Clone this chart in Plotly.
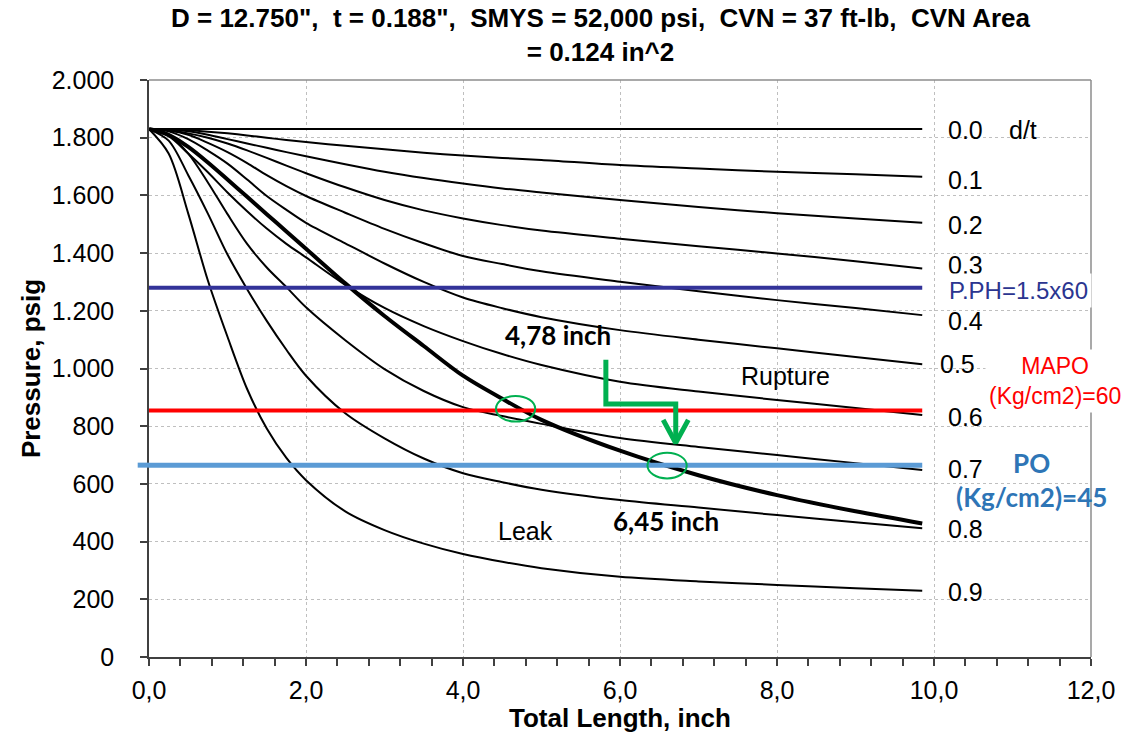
import plotly.graph_objects as go

# ---------------- data ----------------
X_PTS = [0, 0.25, 0.5, 0.75, 1.0, 1.25, 1.5, 1.75, 2.0, 2.5, 3.0, 3.5, 4.0, 4.5, 5.0, 6.0, 7.0, 8.0, 9.0, 9.85]

DT_00 = [1830, 1830, 1830, 1830, 1830, 1830, 1830, 1830, 1830, 1830, 1830, 1830, 1830, 1830, 1830, 1830, 1830, 1830, 1830, 1830]
DT_01 = [1830, 1829, 1826, 1821, 1815, 1808, 1800, 1792, 1785, 1772, 1760, 1748, 1738, 1730, 1723, 1705, 1693, 1682, 1673, 1665]
DT_02 = [1830, 1828, 1822, 1810, 1795, 1780, 1765, 1750, 1736, 1708, 1682, 1660, 1641, 1624, 1610, 1584, 1560, 1538, 1520, 1505]
DT_03 = [1830, 1826, 1815, 1800, 1780, 1756, 1730, 1703, 1677, 1628, 1584, 1548, 1520, 1497, 1478, 1450, 1424, 1399, 1372, 1347]
DT_04 = [1830, 1825, 1810, 1782, 1750, 1712, 1670, 1632, 1598, 1540, 1484, 1434, 1390, 1362, 1337, 1301, 1268, 1237, 1210, 1185]
DT_05 = [1830, 1822, 1795, 1755, 1710, 1655, 1598, 1550, 1505, 1434, 1364, 1300, 1246, 1209, 1178, 1133, 1100, 1070, 1040, 1015]
DT_06 = [1830, 1805, 1745, 1680, 1610, 1545, 1485, 1432, 1385, 1290, 1210, 1147, 1095, 1050, 1012, 954, 920, 891, 863, 839]
DT_07 = [1830, 1810, 1745, 1645, 1535, 1432, 1350, 1282, 1212, 1098, 998, 922, 866, 835, 808, 759, 728, 700, 672, 648]
DT_08 = [1830, 1790, 1670, 1537, 1395, 1275, 1165, 1065, 975, 845, 758, 688, 637, 606, 580, 544, 518, 492, 467, 446]
DT_09 = [1830, 1745, 1537, 1305, 1110, 929, 792, 690, 613, 505, 440, 393, 357, 330, 308, 278, 262, 250, 238, 230]
THICK = [1830, 1810, 1768, 1714, 1655, 1595, 1535, 1475, 1415, 1295, 1182, 1078, 975, 895, 822, 715, 630, 561, 505, 463]

THIN_CURVES = [DT_00, DT_01, DT_02, DT_03, DT_04, DT_05, DT_06, DT_07, DT_08, DT_09]
CURVE_LABELS = ["0.0", "0.1", "0.2", "0.3", "0.4", "0.5", "0.6", "0.7", "0.8", "0.9"]
LABEL_X = [10.15, 10.15, 10.15, 10.15, 10.15, 10.05, 10.15, 10.15, 10.15, 10.15]
LABEL_Y = [1825, 1655, 1499, 1360, 1166, 1014, 833, 653, 442, 227]

LINE_X = [0, 9.85]
P_PH = 1280
MAPO = 854
PO = 665

X_TICKS = [0, 2, 4, 6, 8, 10, 12]
X_TICK_TEXT = ["0,0", "2,0", "4,0", "6,0", "8,0", "10,0", "12,0"]
Y_TICKS = [0, 200, 400, 600, 800, 1000, 1200, 1400, 1600, 1800, 2000]
Y_TICK_TEXT = ["0", "200", "400", "600", "800", "1.000", "1.200", "1.400", "1.600", "1.800", "2.000"]

ELLIPSE_1 = dict(x0=4.42, x1=4.92, y0=816, y1=905)
ELLIPSE_2 = dict(x0=6.35, x1=6.85, y0=619, y1=708)
ARROW_X = [5.82, 5.82, 6.71, 6.71]
ARROW_Y = [1030, 877, 877, 748]
HEAD_X = [6.55, 6.71, 6.87]
HEAD_Y = [822, 742, 822]

GREEN = "#00B050"
NAVY = "#333399"
RED = "#FF0000"
LBLUE = "#5B9BD5"
FONT = "Liberation Sans, Arial, sans-serif"
BOLD_FONT = "Lato, Liberation Sans, sans-serif"

fig = go.Figure()

for ys in THIN_CURVES:
    fig.add_trace(go.Scatter(x=X_PTS, y=ys, mode="lines",
                             line=dict(color="black", width=2, shape="spline", smoothing=0.9),
                             hoverinfo="skip"))
fig.add_trace(go.Scatter(x=X_PTS, y=THICK, mode="lines",
                         line=dict(color="black", width=4, shape="spline", smoothing=0.9),
                         hoverinfo="skip"))

for val, col, w in [(P_PH, NAVY, 4), (MAPO, RED, 4), (PO, LBLUE, 5)]:
    fig.add_trace(go.Scatter(x=LINE_X, y=[val, val], mode="lines",
                             line=dict(color=col, width=w), hoverinfo="skip"))

fig.add_trace(go.Scatter(x=ARROW_X, y=ARROW_Y, mode="lines",
                         line=dict(color=GREEN, width=5), hoverinfo="skip"))
fig.add_trace(go.Scatter(x=HEAD_X, y=HEAD_Y, mode="lines",
                         line=dict(color=GREEN, width=5), hoverinfo="skip"))

shapes = [
    dict(type="circle", xref="x", yref="y", line=dict(color=GREEN, width=2), **ELLIPSE_1),
    dict(type="circle", xref="x", yref="y", line=dict(color=GREEN, width=2), **ELLIPSE_2),
    # PO line stub crossing the value axis
    dict(type="line", xref="paper", yref="y", x0=-0.012, x1=0.0, y0=PO, y1=PO,
         line=dict(color=LBLUE, width=5)),
    # plot-area border (top / right)
    dict(type="line", xref="paper", yref="paper", x0=0, x1=1, y0=1, y1=1,
         line=dict(color="#8C8C8C", width=1.5)),
    dict(type="line", xref="paper", yref="paper", x0=1, x1=1, y0=0, y1=1,
         line=dict(color="#8C8C8C", width=1.5)),
]

annotations = [
    dict(x=0.48, y=1.078, xref="paper", yref="paper",
         text='<b>D = 12.750",  t = 0.188",  SMYS = 52,000 psi,  CVN = 37 ft-lb,  CVN Area<br>= 0.124 in^2</b>',
         showarrow=False, xanchor="center", yanchor="middle", align="center",
         font=dict(family=FONT, size=26, color="black")),
]
for txt, lx, ly in zip(CURVE_LABELS, LABEL_X, LABEL_Y):
    annotations.append(dict(x=lx, y=ly, xref="x", yref="y", text=txt, showarrow=False,
                            xanchor="left", yanchor="middle",
                            font=dict(family=FONT, size=25, color="black")))
annotations += [
    dict(x=10.93, y=1825, xref="x", yref="y", text="d/t", showarrow=False,
         xanchor="left", yanchor="middle", font=dict(family=FONT, size=25, color="black")),
    dict(x=10.14, y=P_PH - 8, xref="x", yref="y", text="P.PH=1.5x60", showarrow=False,
         xanchor="left", yanchor="middle", bgcolor="white", borderpad=3,
         font=dict(family=FONT, size=24, color="#2B3590")),
    dict(x=11.54, y=957, xref="x", yref="y", text="MAPO<br>(Kg/cm2)=60", showarrow=False,
         xanchor="center", yanchor="middle", align="center", bgcolor="white", borderpad=3,
         font=dict(family=FONT, size=23, color=RED)),
    dict(x=11.24, y=613, xref="x", yref="y", text="<b>PO</b><br><b>(Kg/cm2)=45</b>", showarrow=False,
         xanchor="center", yanchor="middle", align="center",
         font=dict(family=BOLD_FONT, size=26, color="#2E75B6")),
    dict(x=8.11, y=974, xref="x", yref="y", text="Rupture", showarrow=False,
         font=dict(family=FONT, size=25, color="black")),
    dict(x=4.8, y=437, xref="x", yref="y", text="Leak", showarrow=False,
         font=dict(family=FONT, size=25, color="black")),
    dict(x=5.21, y=1116, xref="x", yref="y", text="<b>4,78 inch</b>", showarrow=False,
         font=dict(family=BOLD_FONT, size=26, color="black")),
    dict(x=6.59, y=471, xref="x", yref="y", text="<b>6,45 inch</b>", showarrow=False,
         font=dict(family=BOLD_FONT, size=26, color="black")),
]

AXCOL = "#404040"
fig.update_layout(
    width=1146, height=733,
    margin=dict(l=149, r=55, t=80, b=76),
    plot_bgcolor="white", paper_bgcolor="white",
    showlegend=False,
    font=dict(family=FONT, size=25, color="black"),
    shapes=shapes,
    annotations=annotations,
)

fig.update_xaxes(
    range=[0, 12], tickmode="array", tickvals=X_TICKS, ticktext=X_TICK_TEXT,
    ticks="outside", ticklen=7, tickwidth=1.5, tickcolor=AXCOL,
    showline=True, linecolor=AXCOL, linewidth=1.5,
    showgrid=True, gridcolor="#BFBFBF", griddash="dot", gridwidth=1,
    zeroline=False, automargin=False,
    minor=dict(tickmode="linear", tick0=0, dtick=0.4, ticks="outside", ticklen=7,
               tickwidth=1.5, tickcolor=AXCOL, showgrid=False),
    tickfont=dict(family=FONT, size=25, color="black"),
    ticklabelstandoff=3,
    title=dict(text="<b>Total Length, inch</b>", standoff=1,
               font=dict(family=FONT, size=26, color="black")),
)
fig.update_yaxes(
    range=[0, 2000], tickmode="array", tickvals=Y_TICKS, ticktext=Y_TICK_TEXT,
    ticks="outside", ticklen=7, tickwidth=1.5, tickcolor=AXCOL,
    showline=True, linecolor=AXCOL, linewidth=1.5,
    showgrid=True, gridcolor="#BFBFBF", griddash="dot", gridwidth=1,
    zeroline=False, automargin=False,
    tickfont=dict(family=FONT, size=25, color="black"),
    ticklabelstandoff=21,
    title=dict(text="<b>Pressure, psig</b>", standoff=4,
               font=dict(family=FONT, size=26, color="black")),
)

fig.write_html("out.html", config={"displayModeBar": False},
               post_script="document.body.style.margin='0px';")
